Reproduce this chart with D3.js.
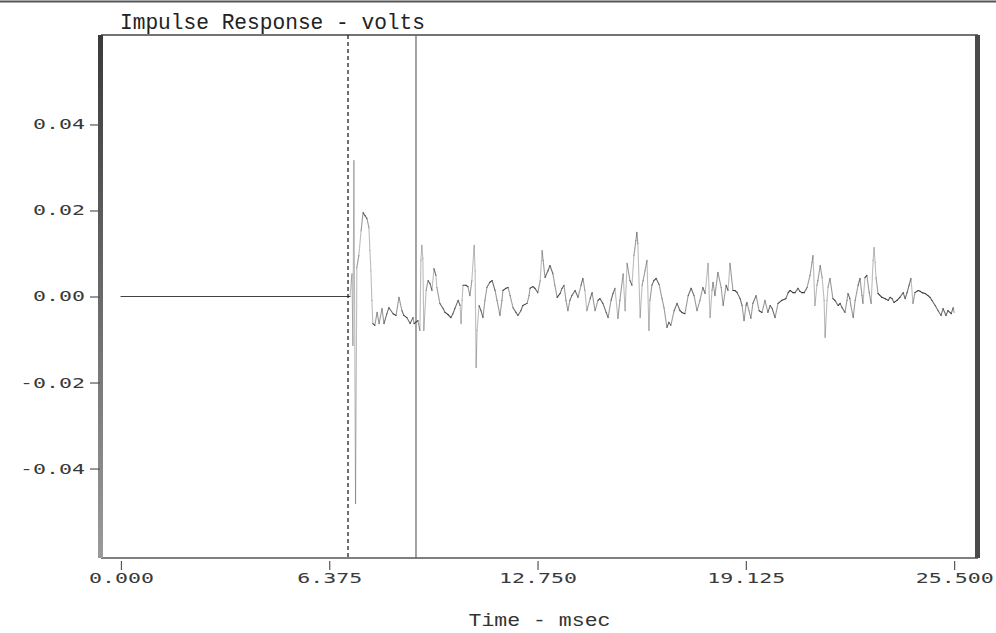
<!DOCTYPE html>
<html>
<head>
<meta charset="utf-8">
<script src="https://cdn.jsdelivr.net/npm/d3@7"></script>
<style>
  html, body { margin: 0; padding: 0; background: #fff; }
  svg { display: block; }
</style>
</head>
<body>
<div id="chart"></div>
<script>
// ----- data -----
const chartTitle = "Impulse Response - volts";
const xAxisTitle = "Time - msec";

const xTicks = [0, 6.375, 12.75, 19.125, 25.5];        // msec
const yTicks = [0.04, 0.02, 0, -0.02, -0.04];           // volts
const cursorTimes = [6.95, 9.03];                       // dashed, solid cursor (msec)

// [time msec, millivolts]
const impulseTrace = [
  [0,0],[7.01,0],[7.07,5.3],[7.10,-11.4],[7.13,31.6],[7.18,-48.1],[7.22,6.7],[7.28,9.5],[7.35,15.3],[7.41,19.5],
  [7.47,18.8],[7.53,18.1],[7.59,16.0],[7.62,10.7],[7.65,6.0],[7.68,-0.9],[7.71,-6.3],[7.77,-6.7],[7.84,-3.7],[7.90,-6.3],
  [7.99,-2.8],[8.05,-6.3],[8.14,-4.0],[8.20,-2.6],[8.33,-4.0],[8.42,-4.4],[8.51,-0.2],[8.60,-3.3],[8.66,-4.4],[8.75,-4.9],
  [8.85,-6.3],[8.94,-4.9],[8.97,-6.3],[9.09,-5.6],[9.15,-7.9],[9.18,8.4],[9.21,11.9],[9.24,8.8],[9.27,-7.9],[9.34,1.4],
  [9.40,3.7],[9.46,3.0],[9.52,1.4],[9.58,6.5],[9.64,4.9],[9.67,2.1],[9.76,-1.6],[9.86,-2.8],[9.92,-3.7],[10.01,-4.2],
  [10.10,-4.9],[10.16,-4.0],[10.22,-2.8],[10.32,-0.9],[10.38,-2.1],[10.41,-6.3],[10.44,-0.9],[10.47,2.6],[10.56,2.6],[10.62,2.3],
  [10.68,0.2],[10.74,3.7],[10.81,11.9],[10.84,6.0],[10.87,-16.5],[10.90,-7.9],[10.96,-2.1],[11.02,-3.3],[11.08,-4.9],[11.14,-0.9],
  [11.20,2.1],[11.29,3.3],[11.36,3.7],[11.45,1.4],[11.51,-0.9],[11.60,-4.4],[11.66,-0.9],[11.69,1.4],[11.78,1.9],[11.85,2.1],
  [11.91,0.2],[12.00,-2.6],[12.09,-3.7],[12.15,-4.4],[12.24,-3.3],[12.30,-2.1],[12.43,-1.6],[12.49,0.2],[12.52,1.9],[12.61,2.3],
  [12.67,1.9],[12.76,0.9],[12.83,3.7],[12.89,10.7],[12.92,8.4],[12.98,4.4],[13.07,6.0],[13.13,7.2],[13.22,5.3],[13.28,2.6],
  [13.35,-0.2],[13.44,0.7],[13.50,1.9],[13.56,2.6],[13.62,-0.9],[13.68,-3.3],[13.74,-0.9],[13.80,0.2],[13.90,1.4],[13.99,-0.2],
  [14.08,2.6],[14.14,4.2],[14.20,1.4],[14.26,-3.3],[14.36,-0.5],[14.42,0.9],[14.51,-3.3],[14.60,-0.9],[14.66,-0.5],[14.75,-1.6],
  [14.85,-3.7],[14.91,-4.9],[15.00,-0.9],[15.06,0.7],[15.12,1.9],[15.21,-5.1],[15.27,-0.9],[15.37,5.3],[15.43,-3.3],[15.49,7.7],
  [15.58,3.7],[15.64,2.6],[15.70,9.5],[15.76,13.0],[15.79,14.9],[15.82,12.3],[15.89,-4.9],[15.95,2.6],[15.98,3.7],[16.04,6.0],
  [16.10,8.4],[16.16,-7.9],[16.19,-0.9],[16.25,2.6],[16.31,3.7],[16.38,4.2],[16.47,2.8],[16.56,-0.5],[16.62,-2.6],[16.71,-7.2],
  [16.77,-6.0],[16.83,-6.7],[16.93,-3.3],[17.02,-1.6],[17.11,-3.3],[17.17,-3.7],[17.26,-4.0],[17.36,0.2],[17.45,1.9],[17.54,0.2],
  [17.63,-3.3],[17.72,-0.9],[17.81,2.1],[17.88,0.7],[17.97,7.7],[18.03,-4.9],[18.09,1.4],[18.12,3.3],[18.18,0.2],[18.27,5.6],
  [18.37,2.1],[18.43,-2.1],[18.52,2.6],[18.58,1.4],[18.64,7.7],[18.73,1.4],[18.79,1.4],[18.86,0.9],[18.95,-0.5],[19.01,-2.1],
  [19.07,-5.6],[19.13,-2.1],[19.16,-1.4],[19.22,-3.3],[19.28,-5.1],[19.34,-1.6],[19.44,0.2],[19.53,-3.3],[19.62,-3.7],[19.71,-0.9],
  [19.80,-3.7],[19.87,-2.1],[19.93,-2.8],[20.02,-4.9],[20.11,-1.6],[20.23,-0.9],[20.35,-0.5],[20.42,0.9],[20.48,1.4],[20.57,0.9],
  [20.63,0.9],[20.72,1.9],[20.78,1.2],[20.84,0.9],[20.91,0.9],[21.00,2.1],[21.09,4.9],[21.15,7.9],[21.18,9.5],[21.24,-2.1],
  [21.30,2.6],[21.33,3.7],[21.40,7.2],[21.46,4.4],[21.52,-0.9],[21.55,-9.5],[21.61,-0.9],[21.64,2.1],[21.70,4.2],[21.79,-0.5],
  [21.85,-0.9],[21.95,-2.1],[22.01,-1.6],[22.07,-2.6],[22.16,-3.7],[22.22,-0.9],[22.25,0.7],[22.31,-0.5],[22.34,-2.1],[22.41,-4.9],
  [22.47,-0.9],[22.56,2.6],[22.62,4.2],[22.68,0.2],[22.71,-1.6],[22.77,4.4],[22.83,4.9],[22.90,0.9],[22.96,-1.6],[23.02,8.4],
  [23.05,11.4],[23.08,7.9],[23.11,4.4],[23.17,0.7],[23.29,-0.2],[23.39,-0.5],[23.48,-0.9],[23.54,-0.2],[23.60,-0.5],[23.66,-1.4],
  [23.75,-0.9],[23.84,-0.2],[23.94,0.9],[24.00,-0.5],[24.06,0.9],[24.12,2.6],[24.18,4.2],[24.24,-1.6],[24.30,0.9],[24.40,1.4],
  [24.46,1.2],[24.52,0.9],[24.61,0.7],[24.70,0.2],[24.76,-0.2],[24.82,-0.9],[24.92,-2.1],[25.01,-3.3],[25.10,-4.4],[25.16,-2.8],
  [25.25,-4.4],[25.31,-3.3],[25.41,-4.0],[25.47,-2.6],[25.50,-3.7]
];

// ----- layout -----
const W = 996, H = 633;
const frame = { left: 101, right: 978, top: 35, bottom: 558 };
const charW = 13;   // plotter font advance

const svg = d3.select("#chart").append("svg")
  .attr("width", W)
  .attr("height", H);

const x = d3.scaleLinear()
  .domain([-0.61, 26.23])
  .range([frame.left, frame.right]);

const y = d3.scaleLinear()
  .domain([-0.0608, 0.0608])
  .range([frame.bottom, frame.top]);

const data = impulseTrace.map(d => ({ t: d[0], v: d[1] / 1000 }));

// scan edge at the very top of the page
svg.append("line")
  .attr("x1", 0).attr("x2", W)
  .attr("y1", 1.5).attr("y2", 1.5)
  .attr("stroke", "#555").attr("stroke-width", 2);

// ----- frame -----
const defs = svg.append("defs");
const grad = defs.append("linearGradient")
  .attr("id", "leftAxisGrad")
  .attr("x1", 0).attr("x2", 0).attr("y1", 0).attr("y2", 1);
grad.append("stop").attr("offset", "0%").attr("stop-color", "#3a3a3a");
grad.append("stop").attr("offset", "50%").attr("stop-color", "#6a6a6a");
grad.append("stop").attr("offset", "100%").attr("stop-color", "#9a9a9a");

svg.append("line")   // top border
  .attr("x1", frame.left).attr("x2", frame.right)
  .attr("y1", frame.top).attr("y2", frame.top)
  .attr("stroke", "#444").attr("stroke-width", 1.4);

svg.append("line")   // bottom border
  .attr("x1", frame.left).attr("x2", frame.right)
  .attr("y1", frame.bottom).attr("y2", frame.bottom)
  .attr("stroke", "#555").attr("stroke-width", 1.4);

svg.append("rect")   // heavy left axis
  .attr("x", frame.left - 3).attr("y", frame.top)
  .attr("width", 5).attr("height", frame.bottom - frame.top)
  .attr("fill", "url(#leftAxisGrad)");

svg.append("rect")   // heavy right edge
  .attr("x", frame.right - 3).attr("y", frame.top)
  .attr("width", 5).attr("height", frame.bottom - frame.top)
  .attr("fill", "#4a4a4a");

// ----- axes -----
const fmtX = d3.format(".3f");
const fmtY = v => d3.format(".2f")(v).replace("−", "-");

const yAxis = svg.append("g")
  .attr("transform", `translate(${frame.left - 1},0)`)
  .call(d3.axisLeft(y).tickValues(yTicks).tickFormat(fmtY).tickSize(10).tickPadding(5));
yAxis.select(".domain").remove();
yAxis.selectAll(".tick line").attr("stroke", "#555").attr("stroke-width", 1.2);
yAxis.selectAll(".tick text")
  .attr("fill", "#3a3a3a")
  .style("font-family", "'DejaVu Sans Mono', monospace")
  .style("font-size", "14px")
  .attr("textLength", d => fmtY(d).length * charW)
  .attr("lengthAdjust", "spacingAndGlyphs");

const xAxis = svg.append("g")
  .attr("transform", `translate(0,${frame.bottom + 3})`)
  .call(d3.axisBottom(x).tickValues(xTicks).tickFormat(fmtX).tickSize(9).tickPadding(3));
xAxis.select(".domain").remove();
xAxis.selectAll(".tick line").attr("stroke", "#555").attr("stroke-width", 1.2);
xAxis.selectAll(".tick text")
  .attr("fill", "#3a3a3a")
  .style("font-family", "'DejaVu Sans Mono', monospace")
  .style("font-size", "14px")
  .attr("textLength", d => fmtX(d).length * charW)
  .attr("lengthAdjust", "spacingAndGlyphs");

// ----- cursors -----
svg.selectAll(".cursor")
  .data(cursorTimes)
  .enter()
  .append("line")
  .attr("class", "cursor")
  .attr("x1", d => x(d)).attr("x2", d => x(d))
  .attr("y1", frame.top).attr("y2", frame.bottom)
  .attr("stroke", (d, i) => i === 0 ? "#222" : "#666")
  .attr("stroke-width", (d, i) => i === 0 ? 1.3 : 1.2)
  .attr("stroke-dasharray", (d, i) => i === 0 ? "4,3" : null);

// ----- trace: pen is faint on fast (steep) moves, dark on slow ones -----
const segs = d3.pairs(data);
svg.append("g")
  .selectAll("line")
  .data(segs)
  .enter()
  .append("line")
  .attr("x1", d => x(d[0].t)).attr("y1", d => y(d[0].v))
  .attr("x2", d => x(d[1].t)).attr("y2", d => y(d[1].v))
  .attr("stroke", "#222")
  .attr("stroke-width", 1.1)
  .attr("stroke-linecap", "round")
  .attr("stroke-opacity", d => {
    const dx = Math.abs(x(d[1].t) - x(d[0].t)) + 0.5;
    const dy = Math.abs(y(d[1].v) - y(d[0].v));
    const s = dy / dx;
    return s > 8 ? 0.3 : s > 3 ? 0.45 : s > 1.2 ? 0.65 : 0.85;
  });

// ----- titles -----
svg.append("text")
  .attr("x", 120).attr("y", 29)
  .attr("fill", "#222")
  .style("font-family", "'Liberation Mono', monospace")
  .style("font-size", "22px")
  .attr("textLength", 305)
  .attr("lengthAdjust", "spacingAndGlyphs")
  .text(chartTitle);

svg.append("text")
  .attr("x", (frame.left + frame.right) / 2).attr("y", 626)
  .attr("text-anchor", "middle")
  .attr("fill", "#333")
  .style("font-family", "'Liberation Mono', monospace")
  .style("font-size", "19px")
  .attr("textLength", 142)
  .attr("lengthAdjust", "spacingAndGlyphs")
  .text(xAxisTitle);
</script>
</body>
</html>
